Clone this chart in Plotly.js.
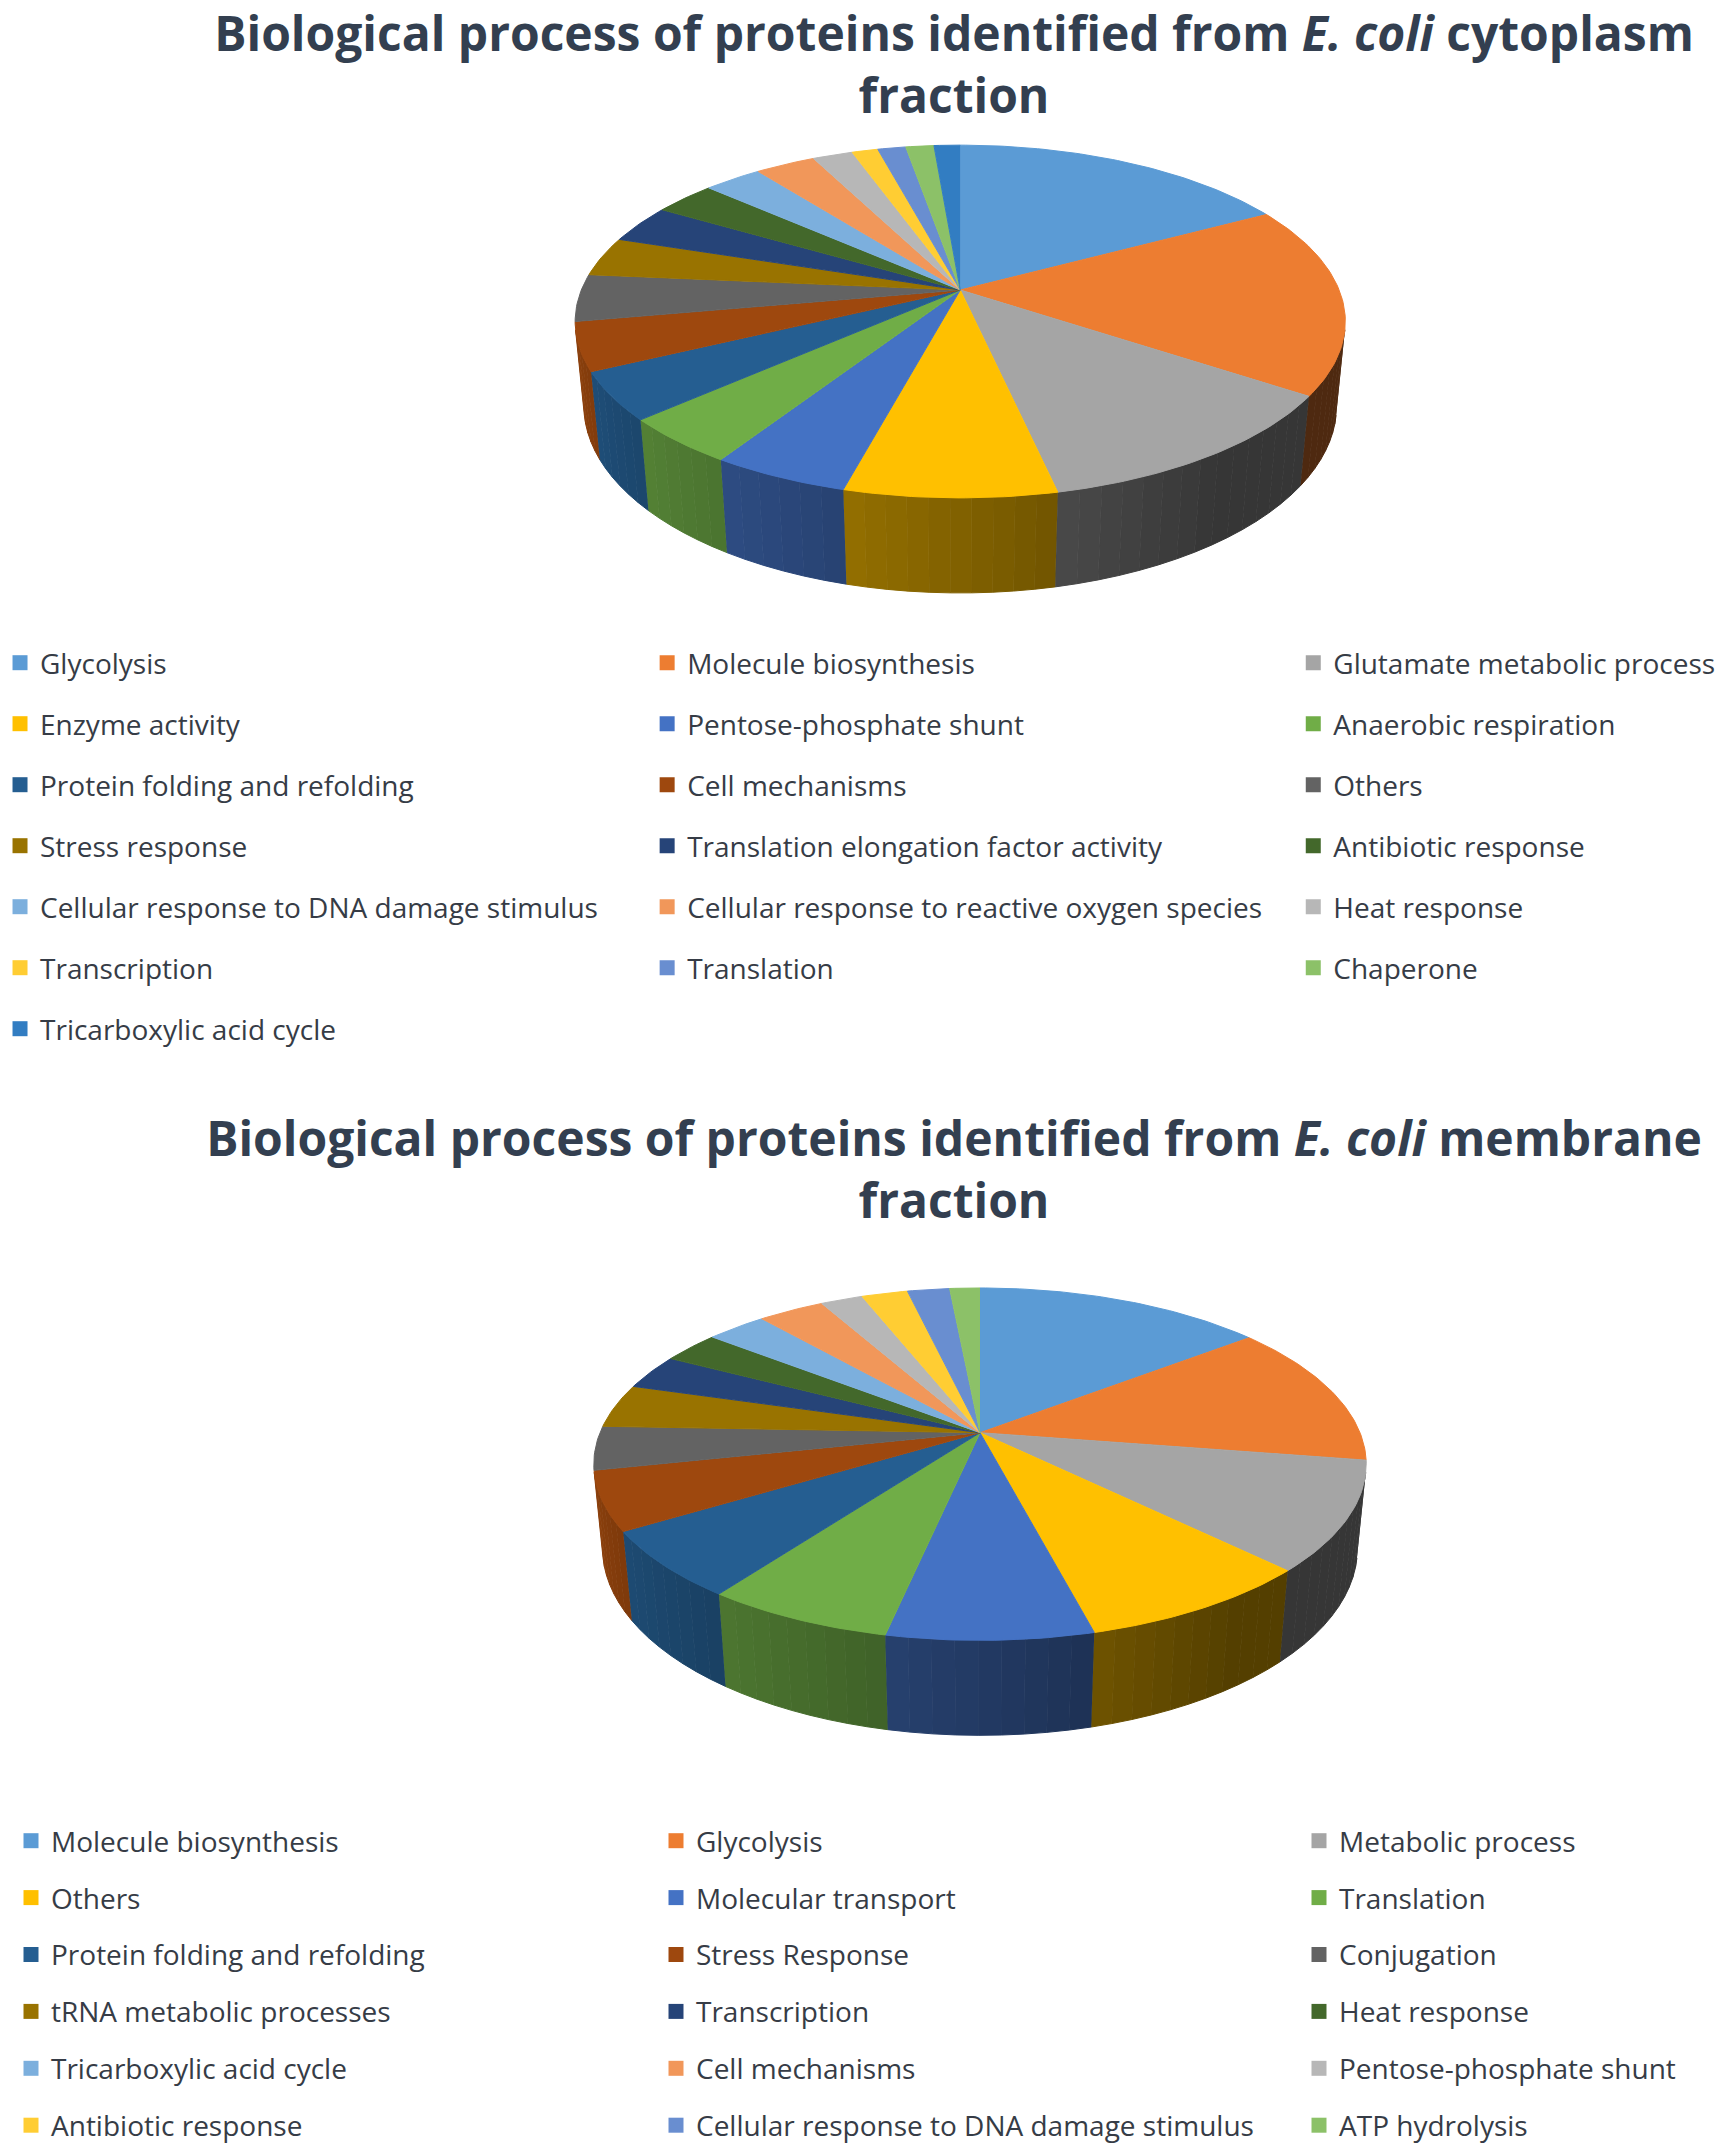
<!DOCTYPE html>
<html>
<head>
<meta charset="utf-8">
<title>Biological process of proteins identified from E. coli</title>
<script src="https://cdn.plot.ly/plotly-3.0.1.min.js"></script>
<style>
  body { margin: 0; background: #ffffff; }
  .chart { width: 1732px; }
</style>
</head>
<body>
<div id="cytoChart" class="chart" style="height:1105px"></div>
<div id="membChart" class="chart" style="height:1045px"></div>
<script>
// share of identified proteins (%) per biological process
const cytoLabels = [
  "Glycolysis", "Molecule biosynthesis", "Glutamate metabolic process",
  "Enzyme activity", "Pentose-phosphate shunt", "Anaerobic respiration",
  "Protein folding and refolding", "Cell mechanisms", "Others",
  "Stress response", "Translation elongation factor activity", "Antibiotic response",
  "Cellular response to DNA damage stimulus", "Cellular response to reactive oxygen species", "Heat response",
  "Transcription", "Translation", "Chaperone",
  "Tricarboxylic acid cycle"
];
const cytoValues = [17.0, 17.4, 12.1, 7.5, 4.9, 4.3, 4.4, 4.4, 4.3, 3.6, 3.5, 3.1, 2.9, 3.0, 2.0, 1.3, 1.4, 1.4, 1.3];

const membLabels = [
  "Molecule biosynthesis", "Glycolysis", "Metabolic process",
  "Others", "Molecular transport", "Translation",
  "Protein folding and refolding", "Stress Response", "Conjugation",
  "tRNA metabolic processes", "Transcription", "Heat response",
  "Tricarboxylic acid cycle", "Cell mechanisms", "Pentose-phosphate shunt",
  "Antibiotic response", "Cellular response to DNA damage stimulus", "ATP hydrolysis"
];
const membValues = [14.4, 13.1, 10.0, 8.5, 7.3, 6.7, 6.2, 5.4, 4.0, 4.0, 3.2, 2.9, 3.0, 3.3, 2.1, 2.3, 2.1, 1.5];

// office palette, in series order
const pieColors = [
  "#5B9BD5", "#ED7D31", "#A5A5A5", "#FFC000", "#4472C4", "#70AD47",
  "#255E91", "#9E480E", "#636363", "#997300", "#264478", "#43682B",
  "#7CAFDD", "#F1975A", "#B7B7B7", "#FFCD33", "#698ED0", "#8CC168",
  "#327DC2"
];

// 3D look of the pie (tilt, camera distance, focal length in px, thickness)
const TILT = 26.7 * Math.PI / 180;
const DIST = 5.0;
const FOCAL = 1900;
const THICK = 0.25;
const FONT = "Open Sans";

// angle phi in degrees, clockwise from the far point of the disc
const project = (cx, cy, phi, w) => {
    const a = phi * Math.PI / 180;
    const u = Math.sin(a), v = Math.cos(a);
    const s = Math.sin(TILT), c = Math.cos(TILT);
    const depth = DIST + v * c - w * s;
    return [cx + FOCAL * u / depth, cy - FOCAL * (v * s + w * c) / depth];
};

const arc = (cx, cy, a0, a1, w) => {
    const n = Math.max(2, Math.ceil(Math.abs(a1 - a0)));
    const xs = [], ys = [];
    for (let k = 0; k <= n; k++) {
        const p = project(cx, cy, a0 + (a1 - a0) * k / n, w);
        xs.push(p[0]);
        ys.push(p[1]);
    }
    return [xs, ys];
};

const shade = (hex, f) => {
    const n = parseInt(hex.slice(1), 16);
    const r = Math.round(((n >> 16) & 255) * f);
    const g = Math.round(((n >> 8) & 255) * f);
    const b = Math.round((n & 255) * f);
    return "rgb(" + r + "," + g + "," + b + ")";
};

// darker towards the right, lit from the front left
const sideFactor = (phi) => Math.min(0.88, Math.max(0.33, 0.33 + 0.55 * (phi - 145) / 110));

const makePieTraces = (labels, values, cx, cy) => {
    const total = values.reduce((a, b) => a + b, 0);
    const phiMin = Math.acos(-1 / (DIST * Math.cos(TILT))) * 180 / Math.PI;
    const phiMax = 360 - phiMin;
    const sides = [], tops = [], keys = [];
    const legendNames = ["legend", "legend2", "legend3"];
    let start = 0;

    values.forEach((val, i) => {
        const end = start + val / total * 360;
        const col = pieColors[i];
        const group = "g" + i;

        // outer wall, cut in thin strips so the light can change along it
        const lo = Math.max(start, phiMin), hi = Math.min(end, phiMax);
        if (lo < hi) {
            const n = Math.ceil((hi - lo) / 3);
            for (let k = 0; k < n; k++) {
                const a = lo + (hi - lo) * k / n;
                const b = lo + (hi - lo) * (k + 1) / n;
                const upper = arc(cx, cy, a, b, 0);
                const lower = arc(cx, cy, b, a, -THICK);
                const sc = shade(col, sideFactor((a + b) / 2));
                sides.push({
                    type: "scatter", mode: "lines",
                    x: upper[0].concat(lower[0]), y: upper[1].concat(lower[1]),
                    fill: "toself", fillcolor: sc,
                    line: { color: sc, width: 1 },
                    hoverinfo: "skip", legendgroup: group, showlegend: false
                });
            }
        }

        const rim = arc(cx, cy, start, end, 0);
        tops.push({
            type: "scatter", mode: "lines",
            x: [cx].concat(rim[0]), y: [cy].concat(rim[1]),
            fill: "toself", fillcolor: col,
            line: { color: col, width: 1 },
            name: labels[i] + " (" + val + "%)",
            hoveron: "fills", hoverinfo: "name",
            legendgroup: group, showlegend: false
        });

        keys.push({
            type: "scatter", mode: "markers",
            x: [null], y: [null],
            marker: { symbol: "square", size: 15, color: col },
            name: labels[i],
            legend: legendNames[i % 3],
            legendgroup: group, showlegend: true
        });

        start = end;
    });
    return sides.concat(tops, keys);
};

const makeLayout = (line1, height, cols, firstRow, gap) => {
    const legendBase = (xpx) => ({
        x: xpx / 1732, xanchor: "left",
        y: 1 - firstRow / height, yanchor: "top",
        orientation: "v", traceorder: "grouped", tracegroupgap: gap,
        bgcolor: "rgba(0,0,0,0)",
        font: { family: FONT, size: 28, color: "#363C46" }
    });
    return {
        width: 1732, height: height,
        margin: { l: 0, r: 0, t: 0, b: 0 },
        paper_bgcolor: "#ffffff", plot_bgcolor: "#ffffff",
        xaxis: { range: [0, 1732], visible: false, fixedrange: true },
        yaxis: { range: [height, 0], visible: false, fixedrange: true },
        title: {
            text: line1 + "<br>fraction",
            font: { family: FONT, size: 48, weight: 700, color: "#333F50" },
            x: 954 / 1732, xanchor: "center",
            y: 1 - 51 / height, yanchor: "top", yref: "container"
        },
        showlegend: true,
        legend: legendBase(cols[0]),
        legend2: legendBase(cols[1]),
        legend3: legendBase(cols[2]),
        hovermode: "closest"
    };
};

Plotly.newPlot("cytoChart",
    makePieTraces(cytoLabels, cytoValues, 958, 290),
    makeLayout("Biological process of proteins identified from <i>E. coli</i> cytoplasm", 1105, [-5, 644, 1292], 638, 21.6),
    { displayModeBar: false });

Plotly.newPlot("membChart",
    makePieTraces(membLabels, membValues, 980, 328),
    makeLayout("Biological process of proteins identified from <i>E. coli</i> membrane", 1045, [11, 656, 1299], 711.5, 17.5),
    { displayModeBar: false });
</script>
</body>
</html>
